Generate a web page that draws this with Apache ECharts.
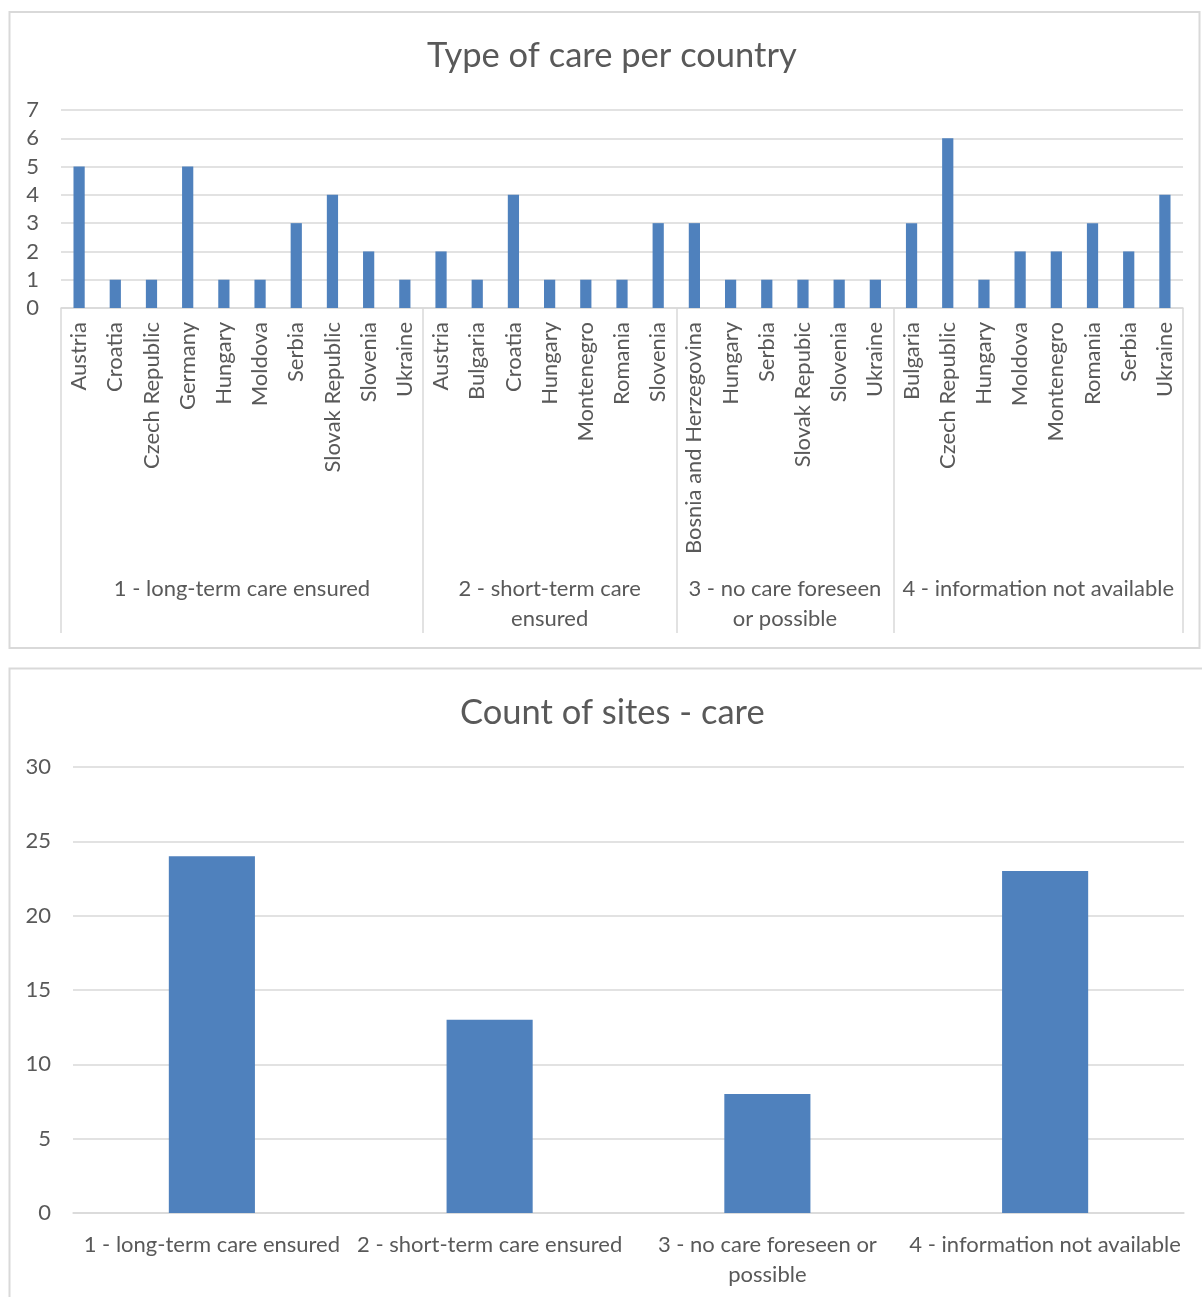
<!DOCTYPE html>
<html>
<head>
<meta charset="utf-8">
<script src="https://cdn.jsdelivr.net/npm/echarts@6/dist/echarts.min.js"></script>
<style>
  html, body { margin: 0; padding: 0; background: #ffffff; }
  #chart { width: 1202px; height: 1297px; }
</style>
</head>
<body>
<div id="chart"></div>
<script>
// Care categories
const careTypes = [
  '1 - long-term care ensured',
  '2 - short-term care ensured',
  '3 - no care foreseen or possible',
  '4 - information not available'
];

// Countries and number of sites within each care category
const longTermCountries = ['Austria', 'Croatia', 'Czech Republic', 'Germany', 'Hungary', 'Moldova', 'Serbia', 'Slovak Republic', 'Slovenia', 'Ukraine'];
const longTermSites = [5, 1, 1, 5, 1, 1, 3, 4, 2, 1];

const shortTermCountries = ['Austria', 'Bulgaria', 'Croatia', 'Hungary', 'Montenegro', 'Romania', 'Slovenia'];
const shortTermSites = [2, 1, 4, 1, 1, 1, 3];

const noCareCountries = ['Bosnia and Herzegovina', 'Hungary', 'Serbia', 'Slovak Repubic', 'Slovenia', 'Ukraine'];
const noCareSites = [3, 1, 1, 1, 1, 1];

const noInfoCountries = ['Bulgaria', 'Czech Republic', 'Hungary', 'Moldova', 'Montenegro', 'Romania', 'Serbia', 'Ukraine'];
const noInfoSites = [3, 6, 1, 2, 2, 3, 2, 4];

// Total sites per care category
const siteCounts = [24, 13, 8, 23];

// Axis ticks
const countryAxisTicks = [0, 1, 2, 3, 4, 5, 6, 7];
const countAxisTicks = [0, 5, 10, 15, 20, 25, 30];

// Line breaks used for the longer category labels
const topWrap = {
  '2 - short-term care ensured': '2 - short-term care\nensured',
  '3 - no care foreseen or possible': '3 - no care foreseen\nor possible'
};
const bottomWrap = {
  '3 - no care foreseen or possible': '3 - no care foreseen or\npossible'
};

const groups = [
  { countries: longTermCountries, sites: longTermSites },
  { countries: shortTermCountries, sites: shortTermSites },
  { countries: noCareCountries, sites: noCareSites },
  { countries: noInfoCountries, sites: noInfoSites }
];

// Flatten the groups into one category axis
const countryLabels = [];
const countryValues = [];
groups.forEach(g => {
  g.countries.forEach((c, i) => { countryLabels.push(c); countryValues.push(g.sites[i]); });
});
const n = countryLabels.length;

// Group axis: half-step slots so that boundaries and group centres both land on points
const groupSlots = new Array(2 * n + 1).fill('');
const boundarySlots = [0];
let start = 0;
groups.forEach((g, gi) => {
  const end = start + g.countries.length;
  groupSlots[start + end] = careTypes[gi];
  boundarySlots.push(2 * end);
  start = end;
});

const textColor = '#595959';
const lineColor = '#d9d9d9';
const fontFamily = 'Lato, "Open Sans", sans-serif';
const labelSize = 22;

const chart = echarts.init(document.getElementById('chart'), null, { renderer: 'canvas' });

chart.setOption({
  backgroundColor: '#ffffff',
  animation: false,
  textStyle: { fontFamily: fontFamily },
  graphic: [
    { type: 'rect', silent: true, z: -10, shape: { x: 9.5, y: 12, width: 1190, height: 636 },
      style: { fill: 'none', stroke: '#d9d9d9', lineWidth: 2 } },
    { type: 'rect', silent: true, z: -10, shape: { x: 9.5, y: 668.5, width: 1200, height: 640 },
      style: { fill: 'none', stroke: '#d9d9d9', lineWidth: 2 } }
  ],
  title: [
    {
      text: 'Type of care per country',
      left: 427, top: 38, padding: 0,
      textStyle: { color: textColor, fontSize: 34.5, fontWeight: 'normal', fontFamily: fontFamily }
    },
    {
      text: 'Count of sites - care',
      left: 460, top: 695, padding: 0,
      textStyle: { color: textColor, fontSize: 34.5, fontWeight: 'normal', fontFamily: fontFamily }
    }
  ],
  grid: [
    { left: 61, right: 19, top: 110, height: 198 },
    { left: 73, right: 18, top: 767, height: 446 }
  ],
  xAxis: [
    {
      type: 'category', gridIndex: 0, data: countryLabels,
      axisLine: { show: true, lineStyle: { color: lineColor, width: 1.5 } },
      axisTick: { show: false },
      axisLabel: { interval: 0, rotate: 90, margin: 14, color: textColor, fontSize: labelSize, fontFamily: fontFamily }
    },
    {
      type: 'category', gridIndex: 0, data: groupSlots, boundaryGap: false, position: 'bottom',
      axisLine: { show: false },
      axisTick: {
        show: true, length: 325,
        interval: (i) => boundarySlots.indexOf(i) >= 0,
        lineStyle: { color: lineColor, width: 1.5 }
      },
      axisLabel: {
        interval: (i, v) => v !== '',
        margin: 266, lineHeight: 30, color: textColor, fontSize: labelSize, fontFamily: fontFamily,
        formatter: (v) => topWrap[v] || v
      }
    },
    {
      type: 'category', gridIndex: 1, data: careTypes,
      axisLine: { show: true, lineStyle: { color: lineColor, width: 1.5 } },
      axisTick: { show: false },
      axisLabel: {
        interval: 0, margin: 17, lineHeight: 30, color: textColor, fontSize: labelSize, fontFamily: fontFamily,
        formatter: (v) => bottomWrap[v] || v
      }
    }
  ],
  yAxis: [
    {
      type: 'value', gridIndex: 0,
      min: countryAxisTicks[0], max: countryAxisTicks[countryAxisTicks.length - 1], interval: 1,
      axisLine: { show: false }, axisTick: { show: false },
      splitLine: { lineStyle: { color: lineColor, width: 1.5 } },
      axisLabel: { margin: 22, color: textColor, fontSize: labelSize, fontFamily: fontFamily }
    },
    {
      type: 'value', gridIndex: 1,
      min: countAxisTicks[0], max: countAxisTicks[countAxisTicks.length - 1], interval: 5,
      axisLine: { show: false }, axisTick: { show: false },
      splitLine: { lineStyle: { color: lineColor, width: 1.5 } },
      axisLabel: { margin: 22, color: textColor, fontSize: labelSize, fontFamily: fontFamily }
    }
  ],
  series: [
    {
      name: 'Sites per country', type: 'bar', xAxisIndex: 0, yAxisIndex: 0,
      data: countryValues, barWidth: '31%',
      itemStyle: { color: '#4f81bd' }
    },
    {
      name: 'Count of sites', type: 'bar', xAxisIndex: 2, yAxisIndex: 1,
      data: siteCounts, barWidth: '31%',
      itemStyle: { color: '#4f81bd' }
    }
  ]
});
</script>
</body>
</html>
